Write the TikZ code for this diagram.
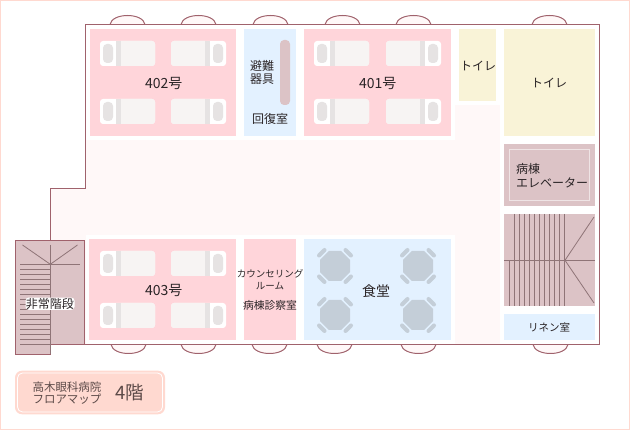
\documentclass[tikz,border=0pt]{standalone}
\usepackage{fontspec}
\setmainfont{Noto Sans CJK JP}
\definecolor{wallcol}{HTML}{A0626C}
\definecolor{framecol}{HTML}{FFD9D0}
\definecolor{floorcol}{HTML}{FFF8F8}
\definecolor{wardcol}{HTML}{FFD5DA}
\definecolor{bluecol}{HTML}{E3F1FF}
\definecolor{wccol}{HTML}{F9F3D7}
\definecolor{stepcol}{HTML}{DCC3C6}
\definecolor{treadcol}{HTML}{8F7477}
\definecolor{tablecol}{HTML}{C4CED8}
\definecolor{sheetcol}{HTML}{F7F4F3}
\definecolor{pillowcol}{HTML}{E6E3E3}
\definecolor{inkcol}{HTML}{2A2426}
\definecolor{titlecol}{HTML}{5C4A48}
\tikzset{
  wall/.style={draw=wallcol,line width=1pt},
  tread/.style={draw=treadcol,line width=0.8pt},
  lbl/.style={text=inkcol,inner sep=0pt,align=center,font=\fontsize{12}{13.5}\selectfont},
  lblbig/.style={lbl,font=\fontsize{14}{15}\selectfont},
  lblsmall/.style={lbl,font=\fontsize{9.5}{12}\selectfont},
  bed/.pic={
    \fill[white,rounded corners=3] (0,0) rectangle (55,25);
    \fill[sheetcol,rounded corners=3] (18,0) rectangle (55,25);
    \fill[pillowcol] (16,0) rectangle (21,25);
    \fill[pillowcol,rounded corners=4] (3,3) rectangle (13,22);
  },
  dinetable/.pic={
    \fill[tablecol] (-6.2,-15) -- (6.2,-15) -- (15,-6.2) -- (15,6.2) -- (6.2,15) -- (-6.2,15) -- (-15,6.2) -- (-15,-6.2) -- cycle;
    \foreach \sx/\sy in {-1/-1,1/-1,-1/1,1/1} {
      \draw[tablecol,line width=4pt,line cap=round] (\sx*16,\sy*10.5) -- (\sx*10.5,\sy*16);
    }
  }
}
\begin{document}
\begin{tikzpicture}[x=1pt,y=-1pt]
\useasboundingbox (0,0) rectangle (630,430);
\draw[framecol,line width=1pt] (0.5,0.5) rectangle (629.5,429.5);
% windows
\foreach \x in {110,181,253,325,396,532} {
\draw[wall,fill=floorcol] (\x,24.5) .. controls (\x+2,12.5) and (\x+33,12.5) .. (\x+35,24.5);
}
\foreach \x in {111,181,252,317,401,533} {
\draw[wall,fill=floorcol] (\x,344.5) .. controls (\x+2,356.5) and (\x+33,356.5) .. (\x+35,344.5);
}
% floor
\fill[floorcol] (85.5,24.5) -- (599.5,24.5) -- (599.5,344.5) -- (50.5,344.5) -- (50.5,188.5) -- (85.5,188.5) -- cycle;
\fill[white] (85.5,24.5) rectangle (455,140);
\fill[white] (455,24.5) rectangle (500,105);
\fill[white] (500,24.5) rectangle (599.5,344.5);
\fill[white] (85.5,235) rectangle (455,344.5);
\draw[wall] (50.5,240.5) -- (50.5,188.5) -- (85.5,188.5) -- (85.5,24.5) -- (599.5,24.5) -- (599.5,344.5) -- (84.5,344.5);
% rooms
\fill[wardcol] (90,29) rectangle (236,136);
\fill[wardcol] (304,29) rectangle (451,136);
\fill[wardcol] (89,239) rectangle (236,340);
\fill[wardcol] (244,239) rectangle (296,340);
\fill[bluecol] (244,29) rectangle (296,136);
\fill[bluecol] (304,239) rectangle (451,340);
\fill[bluecol] (504,314) rectangle (595,340);
\fill[wccol] (459,29) rectangle (496,101);
\fill[wccol] (504,29) rectangle (595,136);
\fill[stepcol] (504,144) rectangle (595,206);
\draw[white!55!stepcol,line width=0.8pt] (509.5,149.5) rectangle (589.5,200.5);
\fill[stepcol,rounded corners=4] (280,40) rectangle (290,105);
% beds
\foreach \x/\y in {100/41,100/99,314/41,314/99,100/251,100/303} {
\pic at (\x,\y) {bed};
}
\foreach \x/\y in {226/41,226/99,441/41,441/99,226/251,226/303} {
\pic[xscale=-1] at (\x,\y) {bed};
}
% tables
\foreach \x/\y in {335/266,418/266,335/315,418/315} {
\pic at (\x,\y) {dinetable};
}
% emergency stairs
\draw[wall,fill=stepcol] (15.5,240.5) -- (84.5,240.5) -- (84.5,344.5) -- (50.5,344.5) -- (50.5,354.5) -- (15.5,354.5) -- cycle;
\draw[tread] (50.3,245) -- (50.3,354);
\draw[tread] (20,264.3) -- (80,264.3);
\draw[tread] (22.5,245) -- (50.3,264.3) -- (77.5,245);
\foreach \n in {1,...,16} {
\draw[tread] (20,264.3+5*\n) -- (50.3,264.3+5*\n);
}
% ward stairs
\fill[stepcol] (504,214) rectangle (595,305.7);
\draw[tread] (504,260.3) -- (595,260.3);
\draw[tread] (594,217) -- (565,260.3) -- (594,303);
\foreach \n in {0,...,10} {
\draw[tread] (514.3+5*\n,214) -- (514.3+5*\n,260.3);
}
\foreach \n in {0,...,11} {
\draw[tread] (509.3+5*\n,260.3) -- (509.3+5*\n,305.7);
}
% title plate
\fill[framecol,rounded corners=7] (15,370.7) rectangle (165,414.3);
\draw[white,line width=0.8pt,rounded corners=5] (17.5,373) rectangle (162.5,412);
% labels
\node[lblbig] (ward402) at (163.7,83) {402号};
\node[lblbig] (ward401) at (377.7,83) {401号};
\node[lblbig] (ward403) at (163.7,290.3) {403号};
\node[lbl] (refuge) at (262,72.5) {避難\\器具};
\node[lbl] (recovery) at (270,119.3) {回復室};
\node[lbl] (wcsmall) at (478,65.7) {トイレ};
\node[lbl] (wcbig) at (549,83) {トイレ};
\node[lbl,anchor=west,align=left] (lift) at (516,175.5) {病棟\\エレベーター};
\node[lbl,fill=white,rounded corners=3,inner sep=0.5pt] (exitstairs) at (50,303.7) {非常階段};
\node[lblsmall] (counsel) at (270,280) {カウンセリング\\ルーム};
\node[lbl,font=\fontsize{10.8}{13}\selectfont] (exam) at (270,305) {病棟診察室};
\node[lblbig] (dining) at (376,291) {食堂};
\node[lbl,font=\fontsize{10.5}{13}\selectfont] (linen) at (549,327) {リネン室};
\node[lbl,text=titlecol,font=\fontsize{11.5}{12.5}\selectfont] (plate) at (67,393) {高木眼科病院\\フロアマップ};
\node[lbl,text=titlecol,font=\fontsize{18.5}{20}\selectfont] (storey) at (130,393) {4階};
\end{tikzpicture}
\end{document}
